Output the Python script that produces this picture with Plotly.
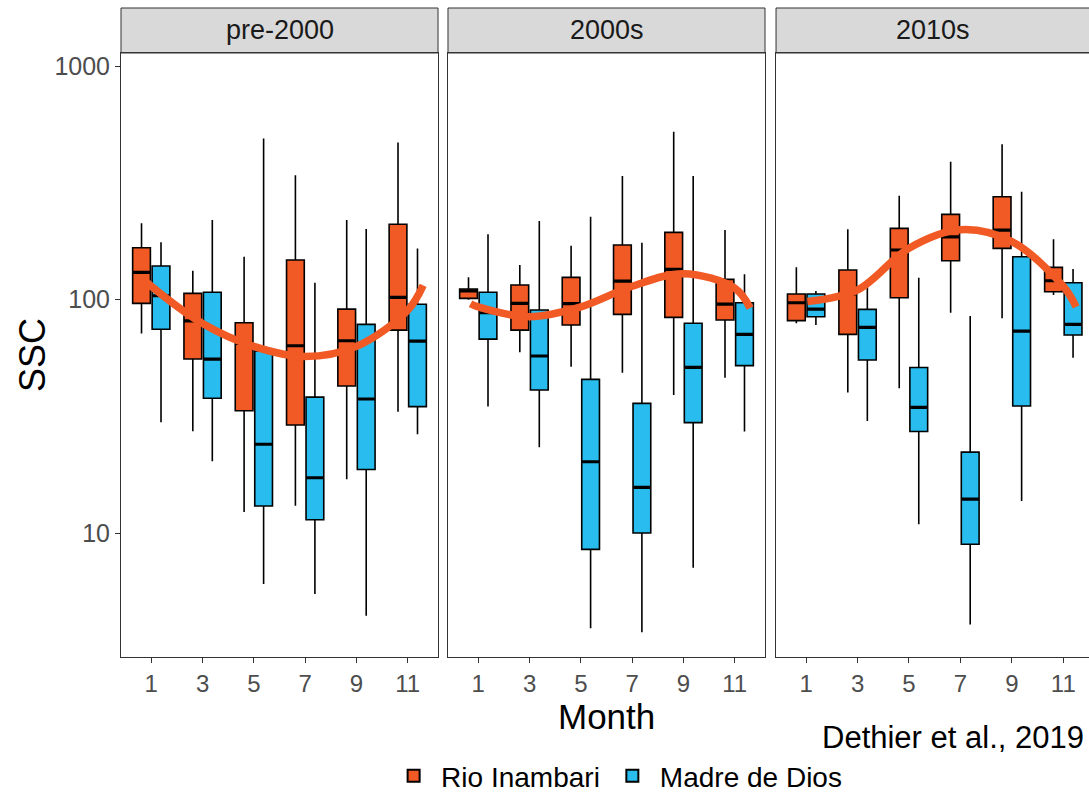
import plotly.graph_objects as go

months = [1, 3, 5, 7, 9, 11]
periods = ["pre-2000", "2000s", "2010s"]
series_names = ["Rio Inambari", "Madre de Dios"]
colors = {"Rio Inambari": "#F15A24", "Madre de Dios": "#29BCEE"}
smooth_color = "#F15A24"

# box stats per period / series: lowerfence, q1, median, q3, upperfence (one value per month)
pre_ri_low = [71.6, 27.3, 12.3, 13.1, 17.0, 33.1]
pre_ri_q1 = [96.3, 55.6, 33.4, 29.0, 42.6, 74.0]
pre_ri_med = [130.8, 81.0, 64.9, 63.4, 66.6, 102.2]
pre_ri_q3 = [166.7, 106.3, 79.6, 147.6, 91.0, 210.0]
pre_ri_high = [212.0, 132.8, 152.5, 341.0, 219.0, 471.0]

pre_md_low = [29.8, 20.3, 6.05, 5.48, 4.42, 26.5]
pre_md_q1 = [74.6, 37.8, 13.05, 11.4, 18.7, 34.8]
pre_md_med = [103.8, 55.6, 24.0, 17.25, 37.5, 66.4]
pre_md_q3 = [139.2, 107.4, 60.2, 38.2, 78.3, 95.4]
pre_md_high = [175.8, 219.0, 490.0, 118.0, 200.4, 165.6]

s00_ri_low = [99.8, 59.4, 51.5, 48.6, 39.0, 46.2]
s00_ri_q1 = [101.2, 74.0, 77.8, 86.4, 83.9, 81.7]
s00_ri_med = [109.0, 96.3, 96.0, 120.0, 134.7, 95.6]
s00_ri_q3 = [110.9, 115.4, 124.5, 171.2, 194.0, 122.0]
s00_ri_high = [124.5, 140.5, 170.0, 338.0, 523.0, 198.4]

s00_md_low = [34.8, 23.3, 3.91, 3.76, 7.1, 27.2]
s00_md_q1 = [67.7, 41.0, 8.51, 10.0, 29.7, 52.1]
s00_md_med = [87.8, 57.3, 20.2, 15.7, 51.2, 70.9]
s00_md_q3 = [107.4, 90.2, 45.5, 35.9, 79.1, 96.9]
s00_md_high = [190.2, 216.8, 226.3, 175.1, 338.0, 128.2]

s10_ri_low = [79.1, 40.0, 41.7, 87.8, 83.1, 104.5]
s10_ri_q1 = [81.2, 70.9, 101.8, 146.6, 165.6, 108.0]
s10_ri_med = [96.9, 105.6, 163.0, 185.7, 198.4, 120.4]
s10_ri_q3 = [105.6, 133.8, 201.8, 231.6, 275.6, 137.4]
s10_ri_high = [137.4, 199.8, 278.3, 389.0, 463.0, 181.1]

s10_md_low = [77.8, 30.2, 10.9, 4.06, 13.7, 56.3]
s10_md_q1 = [84.4, 55.1, 27.2, 8.95, 35.0, 70.5]
s10_md_med = [91.0, 76.0, 34.5, 13.98, 73.3, 78.3]
s10_md_q3 = [105.6, 90.8, 51.2, 22.2, 152.5, 118.0]
s10_md_high = [108.7, 116.2, 124.0, 85.0, 289.5, 135.1]

# smoothed trend lines
pre_smooth_x = [0.6, 1, 3, 5, 7, 9, 11, 11.6]
pre_smooth_y = [125, 114, 79, 63, 57, 63, 90, 115]
s00_smooth_x = [0.7, 1, 3, 5, 7, 9, 11, 11.6]
s00_smooth_y = [96, 93, 84.5, 93, 114, 129, 112, 92]
s10_smooth_x = [1.05, 3, 5, 7, 9, 11, 11.5]
s10_smooth_y = [98, 110, 166, 199, 177, 114, 93]

stats = {
    "pre-2000": {
        "Rio Inambari": (pre_ri_low, pre_ri_q1, pre_ri_med, pre_ri_q3, pre_ri_high),
        "Madre de Dios": (pre_md_low, pre_md_q1, pre_md_med, pre_md_q3, pre_md_high),
    },
    "2000s": {
        "Rio Inambari": (s00_ri_low, s00_ri_q1, s00_ri_med, s00_ri_q3, s00_ri_high),
        "Madre de Dios": (s00_md_low, s00_md_q1, s00_md_med, s00_md_q3, s00_md_high),
    },
    "2010s": {
        "Rio Inambari": (s10_ri_low, s10_ri_q1, s10_ri_med, s10_ri_q3, s10_ri_high),
        "Madre de Dios": (s10_md_low, s10_md_q1, s10_md_med, s10_md_q3, s10_md_high),
    },
}
smooths = {
    "pre-2000": (pre_smooth_x, pre_smooth_y),
    "2000s": (s00_smooth_x, s00_smooth_y),
    "2010s": (s10_smooth_x, s10_smooth_y),
}

FONT = "Liberation Sans, Arial, sans-serif"
fig = go.Figure()
axis_ids = ["", "2", "3"]

for pi, period in enumerate(periods):
    ax = axis_ids[pi]
    for si, name in enumerate(series_names):
        low, q1, med, q3, high = stats[period][name]
        fig.add_trace(go.Box(
            x=months, q1=q1, median=med, q3=q3, lowerfence=low, upperfence=high,
            name=name, legendgroup=name, showlegend=(pi == 0),
            offsetgroup=name, alignmentgroup="a",
            fillcolor=colors[name], line=dict(color="black", width=1.6),
            whiskerwidth=0, boxpoints=False, hoverinfo="skip",
            xaxis="x" + ax, yaxis="y" + ax,
        ))
    for si, name in enumerate(series_names):
        low, q1, med, q3, high = stats[period][name]
        fig.add_trace(go.Box(
            x=months, q1=med, median=med, q3=med, lowerfence=med, upperfence=med,
            name=name + " median", showlegend=False,
            offsetgroup=name, alignmentgroup="a",
            fillcolor="rgba(0,0,0,0)", line=dict(color="black", width=3.2),
            whiskerwidth=0, boxpoints=False, hoverinfo="skip",
            xaxis="x" + ax, yaxis="y" + ax,
        ))
    sx, sy = smooths[period]
    fig.add_trace(go.Scatter(
        x=sx, y=sy, mode="lines", line=dict(color=smooth_color, width=7.5, shape="spline"),
        showlegend=False, hoverinfo="skip", xaxis="x" + ax, yaxis="y" + ax,
    ))

domains = [[0, 0.3275], [0.3378, 0.6653], [0.6767, 1.0]]
xranges = [[-0.18, 12.18], [-0.18, 12.18], [-0.17, 12.0]]
layout = dict(
    width=1089, height=792,
    margin=dict(l=121, r=0, t=53, b=135, autoexpand=False),
    paper_bgcolor="white", plot_bgcolor="white",
    boxmode="group", boxgap=0.24, boxgroupgap=0.09,
    font=dict(family=FONT, color="black"),
    showlegend=True,
    legend=dict(orientation="h", x=0.512, xanchor="center",
                yref="container", y=(792 - 776) / 792, yanchor="middle",
                font=dict(size=28, color="black"), traceorder="normal",
                itemsizing="constant", itemwidth=45),
)
for pi in range(3):
    key = "xaxis" + axis_ids[pi]
    layout[key] = dict(
        domain=domains[pi], range=xranges[pi], anchor="y" + axis_ids[pi],
        tickvals=months, ticktext=[str(m) for m in months],
        ticks="outside", ticklen=5, tickcolor="#333333", tickwidth=1,
        tickfont=dict(size=24, color="#4d4d4d", family=FONT),
        showline=True, linecolor="#333333", linewidth=1, mirror=True,
        showgrid=False, zeroline=False,
    )
    ykey = "yaxis" + axis_ids[pi]
    ydict = dict(
        type="log", range=[0.469, 3.056], anchor="x" + axis_ids[pi],
        showline=True, linecolor="#333333", linewidth=1, mirror=(pi < 2),
        showgrid=False, zeroline=False,
    )
    if pi == 0:
        ydict.update(tickvals=[10, 100, 1000], ticktext=["10", "100", "1000"],
                     ticks="outside", ticklen=5, tickcolor="#333333",
                     tickfont=dict(size=25, color="#4d4d4d", family=FONT))
    else:
        ydict.update(matches="y", showticklabels=False, ticks="")
    layout[ykey] = ydict

fig.update_layout(**layout)

shapes = []
annotations = []
strip_top = 1 + 45 / 604
for pi, period in enumerate(periods):
    xr = "x" + axis_ids[pi] + " domain"
    x1 = 1.0 if pi < 2 else 1.02
    shapes.append(dict(type="rect", xref=xr, yref="paper", x0=0, x1=x1, y0=1.0, y1=strip_top,
                       fillcolor="#D9D9D9", line=dict(color="#333333", width=1), layer="below"))
    annotations.append(dict(text=period, xref="x" + axis_ids[pi] + " domain", yref="paper",
                            x=0.5, y=(1 + strip_top) / 2, showarrow=False,
                            font=dict(size=27, color="#1a1a1a", family=FONT),
                            xanchor="center", yanchor="middle"))

annotations.append(dict(text="Month", xref="x2 domain", yref="paper", x=0.5, y=-0.099,
                        showarrow=False, font=dict(size=35, color="black", family=FONT),
                        xanchor="center", yanchor="middle"))
annotations.append(dict(text="SSC", xref="paper", yref="paper", x=-0.092, y=0.5, textangle=-90,
                        showarrow=False, font=dict(size=36, color="black", family=FONT),
                        xanchor="center", yanchor="middle"))
annotations.append(dict(text="Dethier et al., 2019", xref="paper", yref="paper", x=0.997, y=-0.1325,
                        showarrow=False, font=dict(size=31, color="black", family=FONT),
                        xanchor="right", yanchor="middle"))
fig.update_layout(shapes=shapes, annotations=annotations)

fig.write_html("out.html")
